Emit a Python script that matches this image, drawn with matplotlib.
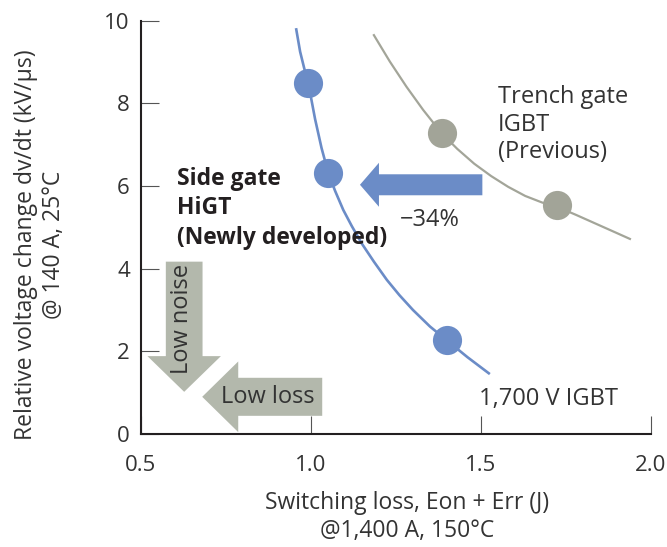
import matplotlib
matplotlib.use("Agg")
import matplotlib.pyplot as plt
from matplotlib.patches import FancyArrow

# ---- data ----
higt_pts_x = [0.992, 1.051, 1.399]
higt_pts_y = [8.49, 6.31, 2.27]
higt_curve_x = [0.956, 0.968, 0.980, 0.992, 1.012, 1.031, 1.051, 1.071, 1.095, 1.120,
                1.150, 1.185, 1.223, 1.260, 1.300, 1.350, 1.399, 1.460, 1.526]
higt_curve_y = [9.82, 9.25, 8.85, 8.49, 7.62, 6.92, 6.31, 5.88, 5.42, 5.03,
                4.60, 4.17, 3.73, 3.36, 3.00, 2.60, 2.27, 1.86, 1.45]

trench_pts_x = [1.384, 1.723]
trench_pts_y = [7.28, 5.54]
trench_curve_x = [1.185, 1.232, 1.281, 1.330, 1.384, 1.430, 1.480, 1.530, 1.580,
                  1.630, 1.680, 1.723, 1.780, 1.840, 1.900, 1.938]
trench_curve_y = [9.65, 9.01, 8.40, 7.84, 7.28, 6.90, 6.54, 6.24, 5.98,
                  5.76, 5.60, 5.50, 5.30, 5.08, 4.86, 4.72]

x_ticks = [0.5, 1.0, 1.5, 2.0]
x_tick_labels = ["0.5", "1.0", "1.5", "2.0"]
y_ticks = [0, 2, 4, 6, 8, 10]
y_tick_labels = ["0", "2", "4", "6", "8", "10"]

BLUE = "#6b8cc7"
GRAY_DOT = "#a2a498"
GRAY_LINE = "#a3a599"
GRAY_ARROW = "#b3b8ac"
TXT = "#333333"

plt.rcParams['font.family'] = ['Open Sans', 'DejaVu Sans']

fig = plt.figure(figsize=(6.67, 5.47), dpi=100)
ax = fig.add_axes([141/667, 1-434/547, 510/667, 413.3/547])
ax.set_xlim(0.5, 2.0)
ax.set_ylim(0, 10)

for s in ['top', 'right']:
    ax.spines[s].set_visible(False)
for s in ['left', 'bottom']:
    ax.spines[s].set_linewidth(1.5)
    ax.spines[s].set_color('#231f20')

ax.set_xticks(x_ticks)
ax.set_xticklabels(x_tick_labels)
ax.set_yticks(y_ticks)
ax.set_yticklabels(y_tick_labels)
ax.tick_params(axis='both', direction='in', length=13, width=0.8, color='#555555',
               labelsize=16, labelcolor=TXT)
ax.tick_params(axis='y', pad=8)
ax.tick_params(axis='x', pad=15)

# curves
ax.plot(higt_curve_x, higt_curve_y, color=BLUE, lw=1.9, solid_capstyle='butt',
        solid_joinstyle='round', zorder=3)
ax.plot(higt_pts_x, higt_pts_y, 'o', color=BLUE, ms=21, mec='none', zorder=4)
ax.plot(trench_curve_x, trench_curve_y, color=GRAY_LINE, lw=1.6,
        solid_joinstyle='round', zorder=3)
ax.plot(trench_pts_x, trench_pts_y, 'o', color=GRAY_DOT, ms=21, mec='none', zorder=4)

# arrows
ax.add_patch(FancyArrow(1.504, 6.03, -0.360, 0, width=0.508, head_width=1.065,
                        head_length=0.0559, length_includes_head=True,
                        color=BLUE, lw=0, zorder=2))
ax.add_patch(FancyArrow(0.627, 4.17, 0, -3.15, width=0.108, head_width=0.216,
                        head_length=0.864, length_includes_head=True,
                        color=GRAY_ARROW, lw=0, zorder=2, clip_on=False))
ax.add_patch(FancyArrow(1.033, 0.90, -0.353, 0, width=0.92, head_width=1.71,
                        head_length=0.106, length_includes_head=True,
                        color=GRAY_ARROW, lw=0, zorder=2, clip_on=False))

FS = 17
# texts
ax.text(0.606, 5.46, "Side gate\nHiGT\n(Newly developed)", fontsize=16.5,
        fontweight='bold', color='#231f20', ha='left', va='center',
        linespacing=1.3, zorder=5)
ax.text(1.55, 7.48, "Trench gate\nIGBT\n(Previous)", fontsize=FS, color=TXT,
        ha='left', va='center', linespacing=1.2)
ax.text(1.262, 5.18, "\u221234%", fontsize=FS, color=TXT, ha='left', va='center')
ax.text(1.494, 0.85, "1,700 V IGBT", fontsize=FS, color=TXT, ha='left', va='center')
ax.text(0.873, 0.90, "Low loss", fontsize=FS, color=TXT, ha='center', va='center', zorder=5)
ax.text(0.622, 2.78, "Low noise", fontsize=FS, color=TXT, ha='center', va='center',
        rotation=90, zorder=5)

fig.text(40/667, 1-245/547, "Relative voltage change dv/dt (kV/\u03bcs)\n@ 140 A, 25\u00b0C",
         rotation=90, ha='center', va='center', fontsize=16.5, color=TXT,
         linespacing=1.25, multialignment='center')
fig.text(407/667, 1-517/547, "Switching loss, Eon + Err (J)\n@1,400 A, 150\u00b0C",
         ha='center', va='center', fontsize=16.5, color=TXT, linespacing=1.2,
         multialignment='center')

fig.savefig("out.png", dpi=100)
